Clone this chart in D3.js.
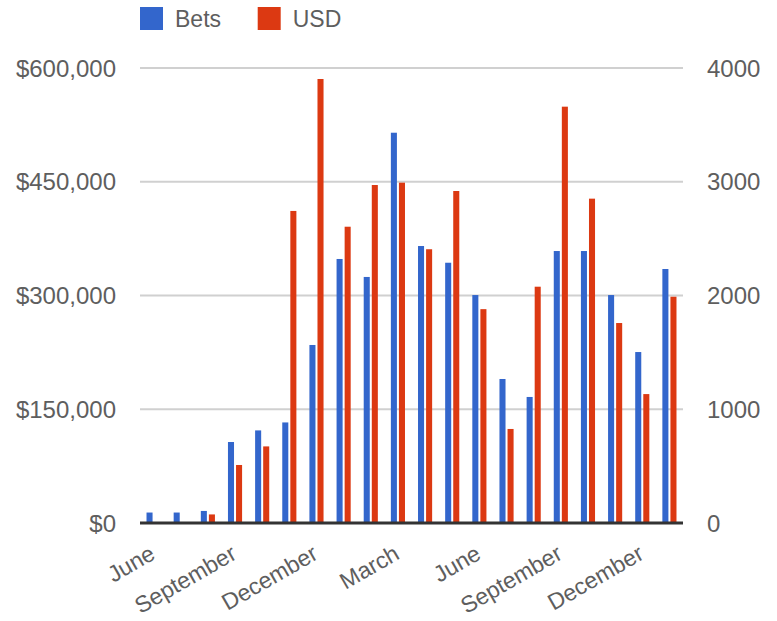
<!DOCTYPE html>
<html>
<head>
<meta charset="utf-8">
<script src="https://cdnjs.cloudflare.com/ajax/libs/d3/7.8.5/d3.min.js"></script>
<style>
  body { margin: 0; background: #fff; }
  text { font-family: "Liberation Sans", Arial, sans-serif; }
</style>
</head>
<body>
<div id="chart"></div>
<script>
const months = ["June", "July", "August", "September", "October", "November", "December",
  "January", "February", "March", "April", "May", "June", "July", "August", "September",
  "October", "November", "December", "January"];
const bets = [92, 92, 106, 712, 814, 884, 1565, 2321, 2163, 3431, 2435, 2288,
  2004, 1266, 1108, 2391, 2391, 2004, 1503, 2233];
const usd = [0, 0, 11300, 76500, 101000, 411500, 585500, 390700, 445700, 448800, 361000, 437800,
  282000, 124000, 311600, 549000, 427700, 263700, 170000, 298400];
const usdTicks = [0, 150000, 300000, 450000, 600000];
const betTicks = [0, 1000, 2000, 3000, 4000];
const series = ["Bets", "USD"];
const colors = ["#3366cc", "#dc3912"];

let width = 777,
    height = 621;
let plotLeft = 140, plotRight = 683, plotTop = 68, plotBottom = 523;

let svg = d3.select('#chart').append('svg')
  .attr('width', width)
  .attr('height', height);

let x = d3.scaleBand()
  .domain(d3.range(months.length))
  .range([plotLeft, plotRight])
  .paddingInner(0.48)
  .paddingOuter(0.24);

let xs = d3.scaleBand()
  .domain([0, 1])
  .range([0, x.bandwidth()])
  .paddingInner(0.25);

let yUsd = d3.scaleLinear().domain([0, 600000]).range([plotBottom, plotTop]);
let yBets = d3.scaleLinear().domain([0, 4000]).range([plotBottom, plotTop]);

// gridlines
svg.append('g').selectAll('line')
  .data(usdTicks.slice(1))
  .enter().append('line')
    .attr('x1', plotLeft).attr('x2', plotRight)
    .attr('y1', d => yUsd(d)).attr('y2', d => yUsd(d))
    .style('stroke', '#d0d0d0')
    .style('stroke-width', 2);

// left axis
let fmt = d3.format('$,');
svg.append('g').selectAll('text')
  .data(usdTicks)
  .enter().append('text')
    .attr('x', 116)
    .attr('y', d => yUsd(d))
    .attr('dy', '0.36em')
    .attr('text-anchor', 'end')
    .style('font-size', '24px')
    .style('fill', '#5e5e5e')
    .text(d => fmt(d));

// right axis
svg.append('g').selectAll('text')
  .data(betTicks)
  .enter().append('text')
    .attr('x', 707)
    .attr('y', d => yBets(d))
    .attr('dy', '0.36em')
    .style('font-size', '24px')
    .style('fill', '#5e5e5e')
    .text(d => d);

// bars
let groups = svg.append('g').selectAll('g')
  .data(months.map((m, i) => i))
  .enter().append('g')
    .attr('transform', i => 'translate(' + x(i) + ',0)');

groups.append('rect')
  .attr('x', xs(0))
  .attr('width', xs.bandwidth())
  .attr('y', i => yBets(bets[i]))
  .attr('height', i => plotBottom - yBets(bets[i]))
  .style('fill', colors[0]);

groups.append('rect')
  .attr('x', xs(1))
  .attr('width', xs.bandwidth())
  .attr('y', i => yUsd(usd[i]))
  .attr('height', i => plotBottom - yUsd(usd[i]))
  .style('fill', colors[1]);

// baseline
svg.append('line')
  .attr('x1', plotLeft).attr('x2', plotRight)
  .attr('y1', plotBottom).attr('y2', plotBottom)
  .style('stroke', '#333')
  .style('stroke-width', 3);

// month labels, every third
svg.append('g').selectAll('text')
  .data(months.map((m, i) => i).filter(i => i % 3 === 0))
  .enter().append('text')
    .attr('transform', i => 'translate(' + (x(i) + x.bandwidth() / 2 + 3) + ',' + 558 + ') rotate(-30)')
    .attr('text-anchor', 'end')
    .style('font-size', '23px')
    .style('fill', '#5e5e5e')
    .text(i => months[i]);

// legend
let legend = svg.append('g').selectAll('g')
  .data(series)
  .enter().append('g')
    .attr('transform', (d, i) => 'translate(' + (140 + i * 117.7) + ',7)');

legend.append('rect')
  .attr('width', 23)
  .attr('height', 23)
  .style('fill', (d, i) => colors[i]);

legend.append('text')
  .attr('x', 35)
  .attr('y', 20)
  .style('font-size', '23px')
  .style('fill', '#5e5e5e')
  .text(d => d);
</script>
</body>
</html>
